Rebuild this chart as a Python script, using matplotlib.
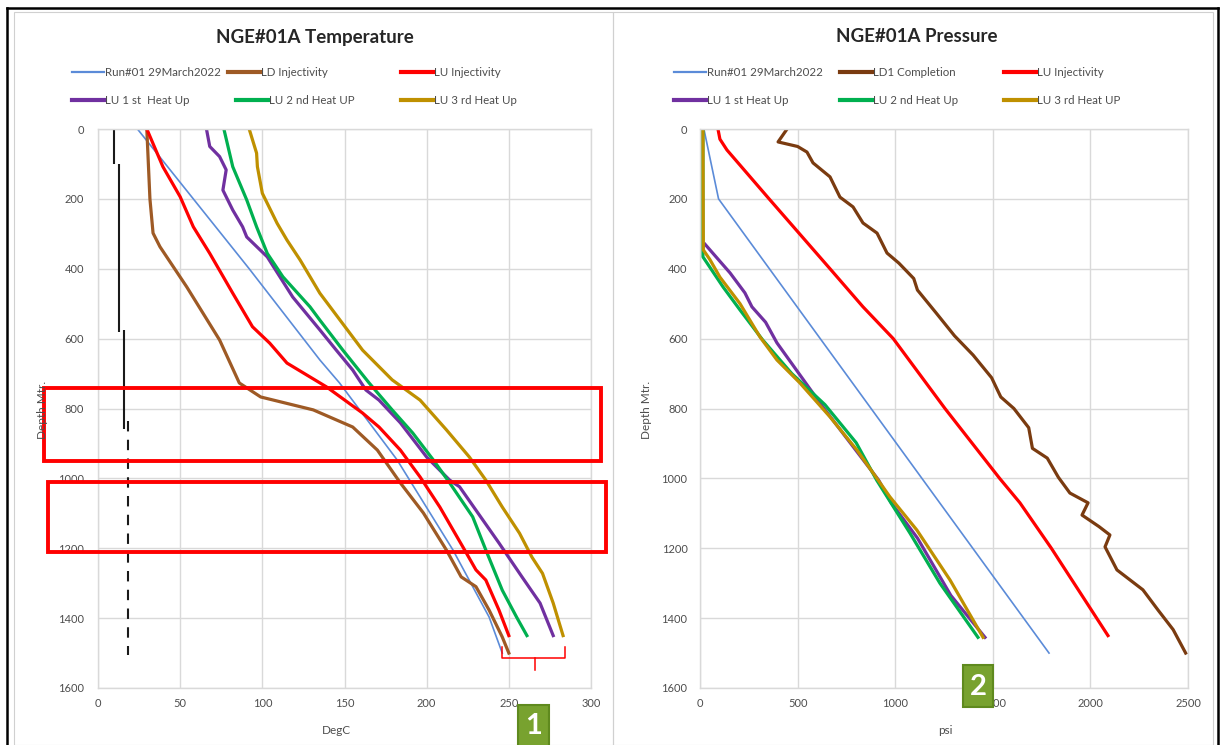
import matplotlib
matplotlib.use("Agg")
import matplotlib.pyplot as plt
from matplotlib.lines import Line2D
from matplotlib.patches import Rectangle

# ---------------- data: temperature chart (DegC vs depth m) ----------------
run01_T_depth = [0, 200, 400, 661, 727, 947, 1205, 1397, 1500]
run01_T = [24, 58, 92, 135, 147, 182, 216, 238, 246]

ldinj_T_depth = [0, 200, 298, 337, 452, 604, 727, 767, 804, 853, 919, 1013, 1099, 1205, 1282, 1310, 1377, 1454, 1500]
ldinj_T = [29.7, 31.6, 33.5, 37.7, 54, 74, 86, 99, 131, 155, 170, 184, 198, 212, 221, 230, 238, 246, 250]

luinj_T_depth = [0, 108, 194, 280, 356, 470, 566, 613, 670, 738, 813, 853, 919, 996, 1082, 1196, 1262, 1291, 1377, 1450]
luinj_T = [29.7, 39.5, 50, 58, 68, 82, 94, 104.5, 115, 139, 161, 171, 184, 196, 208, 222, 230, 236, 244, 250]

lu1_T_depth = [0, 50, 79, 117, 175, 232, 280, 309, 366, 481, 575, 633, 690, 747, 776, 841, 939, 1005, 1024, 1185, 1282, 1357, 1450]
lu1_T = [66, 68, 74, 78, 76, 82, 88, 90.5, 103, 118.5, 135, 145, 155, 163, 171, 184, 200, 214, 220, 244, 258, 269, 277]

lu2_T_depth = [0, 108, 203, 280, 356, 423, 509, 547, 633, 727, 804, 870, 947, 1013, 1110, 1205, 1320, 1397, 1450]
lu2_T = [76.6, 82, 90.5, 96.5, 103, 112.5, 129, 135, 149, 165, 179, 191.5, 204, 214, 228, 236, 246, 254.7, 261]

lu3_T_depth = [0, 69, 108, 184, 270, 318, 375, 470, 633, 718, 776, 861, 939, 1005, 1082, 1157, 1225, 1272, 1357, 1450]
lu3_T = [92, 96.5, 97, 100, 109, 115, 123, 135, 161, 179, 196, 212, 226, 236, 246, 256.5, 264, 270.5, 277, 283]

# casing sketch (black) : x value, depth from, depth to
casing_solid_x = [9.7, 12.8, 15.8]
casing_solid_top = [0, 100, 575]
casing_solid_bot = [100, 580, 860]
casing_dash_x = 18.2
casing_dash_top = 835
casing_dash_bot = 1505

# ---------------- data: pressure chart (psi vs depth m) ----------------
run01_P_depth = [0, 200, 1500]
run01_P = [20, 95, 1788]

ld1_P_depth = [0, 37, 50, 66, 97, 137, 195, 223, 269, 298, 355, 384, 428, 461, 526, 592, 647, 712, 745, 767,
               800, 855, 914, 942, 997, 1042, 1070, 1105, 1138, 1162, 1196, 1262, 1319, 1378, 1433, 1500]
ld1_P = [446, 400, 500, 548, 579, 666, 717, 784, 835, 907, 958, 1019, 1095, 1114, 1209, 1304, 1399, 1494, 1522, 1541,
         1608, 1684, 1703, 1779, 1836, 1895, 1988, 1957, 2044, 2100, 2075, 2136, 2269, 2348, 2424, 2488]

luinj_P_depth = [0, 29, 60, 200, 400, 509, 600, 800, 1000, 1070, 1200, 1450]
luinj_P = [92, 102, 138, 354, 666, 835, 990, 1255, 1535, 1639, 1800, 2090]

lu1_P_depth = [330, 412, 469, 509, 553, 612, 796, 1005, 1070, 1171, 1335, 1455]
lu1_P = [26, 154, 230, 266, 336, 394, 630, 915, 980, 1114, 1285, 1460]

lu2_P_depth = [0, 366, 452, 518, 603, 700, 789, 898, 1005, 1157, 1300, 1455]
lu2_P = [15, 15, 118, 205, 320, 470, 640, 800, 905, 1076, 1229, 1424]

lu3_P_depth = [0, 346, 374, 424, 500, 595, 661, 727, 824, 919, 1053, 1148, 1291, 1455]
lu3_P = [15, 17, 51, 102, 205, 307, 394, 512, 666, 804, 973, 1111, 1281, 1450]

# labels
temp_labels = ["Run#01 29March2022", "LD Injectivity", "LU Injectivity",
               "LU 1 st  Heat Up", "LU 2 nd Heat UP", "LU 3 rd Heat Up"]
pres_labels = ["Run#01 29March2022", "LD1 Completion", "LU Injectivity",
               "LU 1 st Heat Up", "LU 2 nd Heat Up", "LU 3 rd Heat UP"]
depth_ticks = [0, 200, 400, 600, 800, 1000, 1200, 1400, 1600]
temp_ticks = [0, 50, 100, 150, 200, 250, 300]
pres_ticks = [0, 500, 1000, 1500, 2000, 2500]

# annotation boxes on temperature chart (DegC, depth)
box1_T = [-32.8, 306.0]
box1_depth = [741, 950]
box2_T = [-30.4, 309.0]
box2_depth = [1011, 1212]
bracket_T = [245.6, 265.7, 284.0]
bracket_depth = [1483, 1514, 1548]

# ---------------- styling ----------------
FONT = ["Lato", "DejaVu Sans"]
plt.rcParams["font.family"] = FONT
c_blue = "#5B8BD8"
c_brown_l = "#9E5A25"
c_brown_r = "#7A3B10"
c_red = "#FF0000"
c_purple = "#7030A0"
c_green = "#00B050"
c_gold = "#BF9000"
grid_c = "#D9D9D9"
txt_c = "#4D4D4D"

W, H = 1221, 745
fig = plt.figure(figsize=(W / 100, H / 100), dpi=100)


def fx(px):
    return px / W


def fy(py):
    return 1 - py / H


axT = fig.add_axes([fx(98), fy(688), fx(591) - fx(98), fy(129) - fy(688)])
axP = fig.add_axes([fx(700), fy(688), fx(1188) - fx(700), fy(129) - fy(688)])

lw = 2.3
hT = []
hT.append(axT.plot(run01_T, run01_T_depth, color=c_blue, lw=1.2)[0])
hT.append(axT.plot(ldinj_T, ldinj_T_depth, color=c_brown_l, lw=lw)[0])
hT.append(axT.plot(luinj_T, luinj_T_depth, color=c_red, lw=lw)[0])
hT.append(axT.plot(lu1_T, lu1_T_depth, color=c_purple, lw=lw)[0])
hT.append(axT.plot(lu2_T, lu2_T_depth, color=c_green, lw=lw)[0])
hT.append(axT.plot(lu3_T, lu3_T_depth, color=c_gold, lw=lw)[0])
for x, t, b in zip(casing_solid_x, casing_solid_top, casing_solid_bot):
    axT.plot([x, x], [t, b], color="#1a1a1a", lw=1.5, solid_capstyle="butt")
axT.plot([casing_dash_x, casing_dash_x], [casing_dash_top, casing_dash_bot], color="#1a1a1a",
         lw=1.5, dashes=(5, 4))

hP = []
hP.append(axP.plot(run01_P, run01_P_depth, color=c_blue, lw=1.2)[0])
hP.append(axP.plot(ld1_P, ld1_P_depth, color=c_brown_r, lw=lw)[0])
hP.append(axP.plot(luinj_P, luinj_P_depth, color=c_red, lw=lw)[0])
hP.append(axP.plot(lu1_P, lu1_P_depth, color=c_purple, lw=lw)[0])
hP.append(axP.plot(lu2_P, lu2_P_depth, color=c_green, lw=lw)[0])
hP.append(axP.plot(lu3_P, lu3_P_depth, color=c_gold, lw=lw)[0])

for ax, xt, xmax, ypad in ((axT, temp_ticks, 300, 10), (axP, pres_ticks, 2500, 9)):
    ax.set_xlim(0, xmax)
    ax.set_ylim(1600, 0)
    ax.set_xticks(xt)
    ax.set_yticks(depth_ticks)
    ax.grid(True, color=grid_c, lw=1.0)
    ax.set_axisbelow(True)
    ax.tick_params(length=0, labelsize=8, labelcolor=txt_c)
    ax.tick_params(axis="y", pad=ypad)
    ax.tick_params(axis="x", pad=7)
    for s in ax.spines.values():
        s.set_color(grid_c)
        s.set_linewidth(1.0)

# annotation boxes and bracket
for bx, bd in ((box1_T, box1_depth), (box2_T, box2_depth)):
    axT.add_patch(Rectangle((bx[0], bd[0]), bx[1] - bx[0], bd[1] - bd[0], fill=False,
                            edgecolor=c_red, lw=2.8, clip_on=False, zorder=6))
axT.plot([bracket_T[0], bracket_T[0], bracket_T[2], bracket_T[2]],
         [bracket_depth[0], bracket_depth[1], bracket_depth[1], bracket_depth[0]],
         color=c_red, lw=1.1, clip_on=False, zorder=6)
axT.plot([bracket_T[1], bracket_T[1]], [bracket_depth[1], bracket_depth[2]],
         color=c_red, lw=1.1, clip_on=False, zorder=6)

# titles and axis labels
fig.text(fx(315), fy(37), "NGE#01A Temperature", ha="center", va="center",
         fontsize=13.5, fontweight="bold", color="#262626")
fig.text(fx(917), fy(37), "NGE#01A Pressure", ha="center", va="center",
         fontsize=13.5, fontweight="bold", color="#262626")
fig.text(fx(336), fy(731), "DegC", ha="center", va="center", fontsize=8.5, color=txt_c)
fig.text(fx(945), fy(731), "psi", ha="center", va="center", fontsize=8.5, color=txt_c)
fig.text(fx(43), fy(410), "Depth Mtr.", ha="center", va="center", fontsize=8.5,
         color=txt_c, rotation=90)
fig.text(fx(646), fy(410), "Depth Mtr.", ha="center", va="center", fontsize=8.5,
         color=txt_c, rotation=90)

# legends (one entry each, placed like the Excel layout)
legT_pos = [(72, 73), (228, 73), (401, 73), (72, 101), (236, 101), (401, 101)]
legP_pos = [(674, 73), (840, 73), (1004, 73), (674, 101), (840, 101), (1004, 101)]
for handles, labels, poss in ((hT, temp_labels, legT_pos), (hP, pres_labels, legP_pos)):
    for h, lab, (px, py) in zip(handles, labels, poss):
        proxy = Line2D([], [], color=h.get_color(), lw=(1.6 if h.get_linewidth() < 2 else 3.0))
        fig.legend(handles=[proxy], labels=[lab], loc="center left",
                   bbox_to_anchor=(fx(px), fy(py)), frameon=False, fontsize=8.3,
                   handlelength=2.8, handletextpad=0.1, borderpad=0, borderaxespad=0,
                   labelcolor=txt_c)

# panel borders / frame
fig.add_artist(Rectangle((fx(14), fy(745)), fx(613) - fx(14), fy(12) - fy(745), fill=False,
                         edgecolor="#D0D0D0", lw=0.8, transform=fig.transFigure))
fig.add_artist(Rectangle((fx(613), fy(745)), fx(1213) - fx(613), fy(12) - fy(745), fill=False,
                         edgecolor="#D0D0D0", lw=0.8, transform=fig.transFigure))
fig.add_artist(Line2D([fx(7), fx(7)], [fy(745), fy(8)], color="black", lw=1.8,
                      transform=fig.transFigure))
fig.add_artist(Line2D([fx(7), fx(1218)], [fy(8), fy(8)], color="black", lw=1.8,
                      transform=fig.transFigure))
fig.add_artist(Line2D([fx(1218), fx(1218)], [fy(8), fy(745)], color="black", lw=1.8,
                      transform=fig.transFigure))

# numbered badges
for (x0, y0, x1, y1), num in (((518, 705, 549, 748), "1"), ((963, 665, 993, 707), "2")):
    fig.add_artist(Rectangle((fx(x0), fy(y1)), fx(x1) - fx(x0), fy(y0) - fy(y1),
                             facecolor="#78A22F", edgecolor="#5F8A1E", lw=1.5,
                             transform=fig.transFigure, zorder=10))
    fig.text(fx((x0 + x1) / 2), fy((y0 + min(y1, 745)) / 2 + 1), num, ha="center", va="center",
             fontsize=21, fontweight="bold", color="white", zorder=11)

fig.savefig("out.png", dpi=100)
